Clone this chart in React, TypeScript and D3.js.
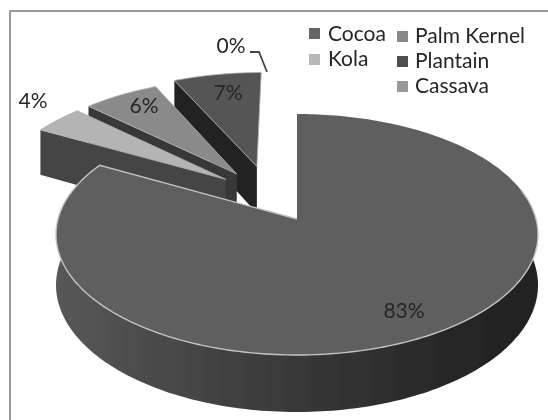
import React from "react";
import * as d3 from "d3";

const categories = ["Cocoa", "Kola", "Palm Kernel", "Plantain", "Cassava"];
const shares = [83, 4, 6, 7, 0];
const legendColors = ["#666666", "#b8b8b8", "#888888", "#4d4d4d", "#999999"];
const topColors = ["#5f5f5f", "#b4b4b4", "#8a8a8a", "#555555", "#ffffff"];
const wallColors = ["url(#wall)", "#444444", "#383838", "#222222", "#ffffff"];

const W = 548;
const H = 420;
const font = "Lato, 'Open Sans', sans-serif";
const textColor = "#262626";

// perspective projection of the pie's unit disc on to the page
const apexX = 297;
const apexY = 219;
const radiusX = 239;
const radiusY = 118.5;
const perspective = 0.1286;
const thickness = 49.7;

// how far each slice is pulled out, in disc units
const pullU = [0, -0.312, -0.265, -0.178, 0];
const pullV = [0, 0.35, 0.4, 0.47, 0];

const legendPlacement = [
  { sx: 309, sy: 28, tx: 328, ty: 41 },
  { sx: 309, sy: 54, tx: 328, ty: 66 },
  { sx: 397, sy: 31, tx: 415, ty: 43 },
  { sx: 397, sy: 56, tx: 415, ty: 68 },
  { sx: 397, sy: 81, tx: 415, ty: 93 },
];
const labelPlacement = [
  { x: 404, y: 318 },
  { x: 33, y: 108 },
  { x: 144, y: 113 },
  { x: 228, y: 100 },
  { x: 231, y: 53 },
];

type P = [number, number];

function project(u: number, v: number, drop = 0): P {
  const w = 1 + perspective * v;
  return [
    apexX + (radiusX * u) / w,
    apexY - (radiusY * v) / w + (drop * thickness) / w,
  ];
}

const arcs = d3.pie<number>().sort(null).value((d) => d)(shares);
const line = d3.line();

function rim(i: number, a0: number, a1: number, drop = 0): P[] {
  const n = Math.max(2, Math.ceil(Math.abs(a1 - a0) / 0.02));
  return d3.range(n + 1).map((k) => {
    const a = a0 + ((a1 - a0) * k) / n;
    return project(pullU[i] + Math.sin(a), pullV[i] + Math.cos(a), drop);
  });
}

function apex(i: number, drop = 0): P {
  return project(pullU[i], pullV[i], drop);
}

const closed = (pts: P[]) => (line(pts) as string) + "Z";

function Slice({ i }: { i: number }) {
  const { startAngle: a0, endAngle: a1 } = arcs[i];
  const top = [apex(i), ...rim(i, a0, a1)];
  if (i === 0) {
    const from = Math.PI * 0.42;
    const to = Math.min(a1, Math.PI * 1.58);
    const wall = [...rim(i, from, to), ...rim(i, to, from, 1)];
    const edge = [...rim(i, from, a1), apex(i)];
    return (
      <g>
        <path d={closed(wall)} fill={wallColors[i]} />
        <path d={closed(top)} fill={topColors[i]} />
        <path d={line(edge) as string} fill="none" stroke="#c4c4c4" strokeWidth={1.4} />
      </g>
    );
  }
  // the cut face that looks toward the viewer's left
  const outer = rim(i, a0, a0)[0];
  const outerLow = rim(i, a0, a0, 1)[0];
  const face = [outer, apex(i), apex(i, 1), outerLow];
  return (
    <g>
      <path d={closed(face)} fill={wallColors[i]} />
      <path d={closed(top)} fill={topColors[i]} stroke="#b0b0b0" strokeWidth={0.8} />
    </g>
  );
}

export default function App() {
  const drawOrder = [3, 2, 1, 0];
  return (
    <svg
      width={W}
      height={H}
      viewBox={`0 0 ${W} ${H}`}
      style={{ position: "fixed", left: 0, top: 0, background: "#fff", display: "block" }}
    >
      <defs>
        <linearGradient id="wall" gradientUnits="userSpaceOnUse" x1={58} x2={538} y1={0} y2={0}>
          <stop offset="0" stopColor="#585858" />
          <stop offset="0.25" stopColor="#474747" />
          <stop offset="0.5" stopColor="#383838" />
          <stop offset="0.75" stopColor="#2a2a2a" />
          <stop offset="1" stopColor="#202020" />
        </linearGradient>
        <filter id="soft" x="-5%" y="-5%" width="110%" height="110%">
          <feGaussianBlur stdDeviation="0.6" />
        </filter>
      </defs>
      <g filter="url(#soft)">
        <path d={`M548,11H10V420`} fill="none" stroke="#999999" strokeWidth={2} />
        {drawOrder.map((i) => (
          <Slice key={categories[i]} i={i} />
        ))}
        <path d="M250,52H259L267,72" fill="none" stroke="#444444" strokeWidth={1.8} />
        {shares.map((s, i) => (
          <text
            key={categories[i]}
            x={labelPlacement[i].x}
            y={labelPlacement[i].y}
            textAnchor="middle"
            fontFamily={font}
            fontSize={21}
            fill={textColor}
          >
            {s}%
          </text>
        ))}
        {categories.map((c, i) => (
          <g key={c}>
            <rect
              x={legendPlacement[i].sx}
              y={legendPlacement[i].sy}
              width={11}
              height={11}
              fill={legendColors[i]}
            />
            <text
              x={legendPlacement[i].tx}
              y={legendPlacement[i].ty}
              fontFamily={font}
              fontSize={21}
              fill={textColor}
            >
              {c}
            </text>
          </g>
        ))}
      </g>
    </svg>
  );
}
